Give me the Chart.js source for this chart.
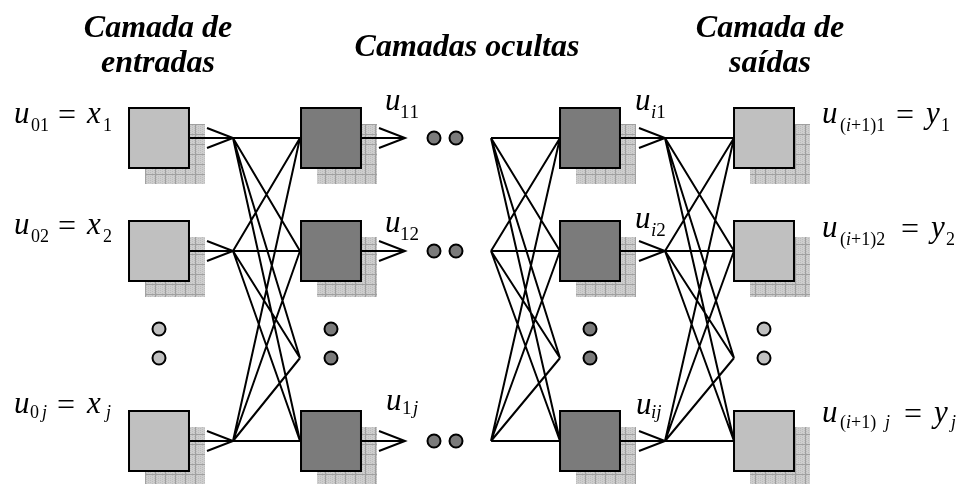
<!DOCTYPE html>
<html>
<head>
<meta charset="utf-8">
<title>Camadas de uma rede neural</title>
<script src="https://cdn.jsdelivr.net/npm/chart.js@4.4.0/dist/chart.umd.min.js"></script>
<style>
  html, body { margin: 0; padding: 0; background: #fff; }
  #wrap { width: 962px; height: 484px; }
</style>
</head>
<body>
<div id="wrap"><canvas id="net" width="962" height="484"></canvas></div>
<script>
// --- Diagram values (in the units of the x / y axes) ---
const layerNames = ["Camada de entradas", "Camada oculta 1", "Camada oculta i", "Camada de saídas"];
const nodeX = [159, 331, 590, 764];      // box centre of each layer
const nodeY = [138, 251, 441];           // rows 1, 2 and j
const fanInY = [138, 251, 358, 441];     // rows plus the hidden row under the ellipsis
const fanOutX = [233, 491, 665];         // start of each fan of links
const fanInX = [300, 560, 734];          // end of each fan (left side of next boxes)
const arrowFromX = [190, 361, 621];      // arrows leaving layers 0, 1, i
const arrowTipX = [233, 405, 665];
const skipX = [434, 456];                // "o o" between hidden layers
const skipY = [329, 358];                // vertical ellipsis in each column

const titleLines = [
  ["Camada de", 158, 37], ["entradas", 158, 72],
  ["Camadas ocultas", 467, 56],
  ["Camada de", 770, 37], ["saídas", 770, 72]
];

// [text, x, baseline, size]; lowercase letters are set in italic
const mathLabels = [
  ["u", 14, 123, 31], ["01", 31, 131, 18], ["=", 58, 125, 32], ["x", 87, 123, 31], ["1", 103, 131, 18],
  ["u", 14, 234, 31], ["02", 31, 242, 18], ["=", 58, 236, 32], ["x", 87, 234, 31], ["2", 103, 242, 18],
  ["u", 14, 413, 31], ["0", 30, 418, 18], ["j", 42, 418, 18], ["=", 57, 415, 32], ["x", 87, 413, 31], ["j", 106, 418, 18],
  ["u", 385, 110, 31], ["11", 400, 118, 19],
  ["u", 385, 232, 31], ["12", 400, 240, 19],
  ["u", 386, 410, 31], ["1", 402, 414, 19], ["j", 413, 414, 19],
  ["u", 635, 110, 31], ["i1", 651, 118, 19],
  ["u", 635, 228, 31], ["i2", 651, 236, 19],
  ["u", 636, 414, 31], ["ij", 651, 418, 19],
  ["u", 822, 123, 31], ["(i+1)1", 840, 131, 18], ["=", 896, 125, 32], ["y", 926, 123, 31], ["1", 941, 131, 18],
  ["u", 822, 237, 31], ["(i+1)2", 840, 245, 18], ["=", 901, 239, 32], ["y", 931, 237, 31], ["2", 946, 245, 18],
  ["u", 822, 422, 31], ["(i+1)", 840, 428, 18], ["j", 885, 428, 18], ["=", 904, 424, 32], ["y", 934, 422, 31], ["j", 951, 428, 18]
];

const ctx = document.getElementById("net").getContext("2d");

// --- Grey grid used for the box shadows ---
function gridPattern() {
  const c = document.createElement("canvas");
  c.width = 10; c.height = 10;
  const g = c.getContext("2d");
  g.fillStyle = "#cecece"; g.fillRect(0, 0, 10, 10);
  g.fillStyle = "#bcbcbc";
  for (let i = 0; i < 10; i += 2) for (let j = (i / 2) % 2; j < 10; j += 2) g.fillRect(i, j, 1, 1);
  g.fillStyle = "#a0a0a0"; g.fillRect(5, 0, 1, 10); g.fillRect(0, 4, 10, 1);
  return ctx.createPattern(c, "repeat");
}

// --- Build datasets ---
const gap = { x: 0, y: null };
const shadowPts = [], links = [], arrows = [], hDots = [];
nodeX.forEach(x => nodeY.forEach(y => shadowPts.push({ x: x + 16, y: y + 16 })));
for (let l = 0; l < 3; l++) {
  nodeY.forEach(s => fanInY.forEach(t => {
    links.push({ x: fanOutX[l], y: s }, { x: fanInX[l], y: t }, gap);
  }));
  nodeY.forEach(y => {
    arrows.push({ x: arrowFromX[l], y }, { x: arrowTipX[l], y }, gap);
    arrows.push({ x: arrowTipX[l] - 26, y: y - 10 }, { x: arrowTipX[l], y }, { x: arrowTipX[l] - 26, y: y + 10 }, gap);
  });
}
nodeY.forEach(y => skipX.forEach(x => hDots.push({ x, y })));

const boxFill = ["#c0c0c0", "#7b7b7b", "#7b7b7b", "#c0c0c0"];
const boxSets = nodeX.map((x, l) => ({
  label: layerNames[l],
  data: nodeY.map(y => ({ x, y })),
  pointStyle: "rect", pointRadius: 42.4, backgroundColor: boxFill[l],
  borderColor: "#000", borderWidth: 2, order: 2
}));
const vDotSets = nodeX.map((x, l) => ({
  data: skipY.map(y => ({ x, y })),
  pointStyle: "circle", pointRadius: 6.5, backgroundColor: boxFill[l],
  borderColor: "#000", borderWidth: 2, order: 1
}));

// --- Text drawn through the chart scales ---
const textPlugin = {
  id: "netText",
  afterDatasetsDraw(chart) {
    const c = chart.ctx, sx = chart.scales.x, sy = chart.scales.y;
    c.save();
    c.fillStyle = "#000";
    c.textBaseline = "alphabetic";
    c.textAlign = "center";
    c.font = "italic bold 32px 'Liberation Serif'";
    titleLines.forEach(([t, x, y]) => c.fillText(t, sx.getPixelForValue(x), sy.getPixelForValue(y)));
    c.textAlign = "left";
    mathLabels.forEach(([t, x, y, size]) => {
      let px = sx.getPixelForValue(x);
      const py = sy.getPixelForValue(y);
      for (const ch of t) {
        c.font = (/[a-z]/.test(ch) ? "italic " : "") + size + "px 'Liberation Serif'";
        c.fillText(ch, px, py);
        px += c.measureText(ch).width;
      }
    });
    c.restore();
  }
};

new Chart(ctx, {
  type: "scatter",
  data: {
    datasets: [
      { data: shadowPts, pointStyle: "rect", pointRadius: 42.4, backgroundColor: gridPattern(), borderWidth: 0, order: 5 },
      { data: links, showLine: true, pointRadius: 0, borderColor: "#000", borderWidth: 2, spanGaps: false, order: 4 },
      { data: arrows, showLine: true, pointRadius: 0, borderColor: "#000", borderWidth: 2, spanGaps: false, order: 3 },
      ...boxSets,
      { data: hDots, pointStyle: "circle", pointRadius: 6.5, backgroundColor: "#7b7b7b", borderColor: "#000", borderWidth: 2, order: 1 },
      ...vDotSets
    ]
  },
  options: {
    responsive: false,
    animation: false,
    events: [],
    layout: { padding: 0, autoPadding: false },
    elements: { line: { tension: 0 } },
    plugins: { legend: { display: false }, tooltip: { enabled: false }, title: { display: false } },
    scales: {
      x: { type: "linear", min: 0, max: 962, display: false },
      y: { type: "linear", min: 0, max: 484, reverse: true, display: false }
    }
  },
  plugins: [textPlugin]
});
</script>
</body>
</html>
